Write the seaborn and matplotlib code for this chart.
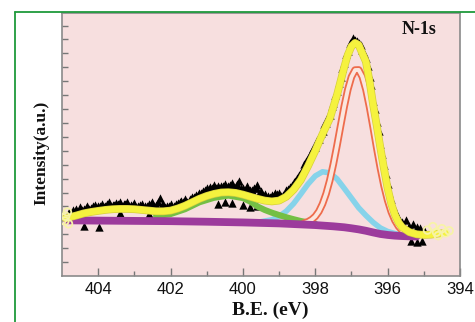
import numpy as np
import matplotlib
matplotlib.use("Agg")
import matplotlib.pyplot as plt
from matplotlib.lines import Line2D
import seaborn as sns

# ---------------- data ----------------
# Shirley-type background (purple)
bg_x = [404.85, 404.0, 403.0, 402.0, 401.0, 400.0, 399.0, 398.5, 398.0, 397.5, 397.2,
        397.0, 396.8, 396.6, 396.4, 396.2, 396.0, 395.8, 395.6, 395.4, 395.2]
bg_y = [4.00, 3.98, 3.96, 3.94, 3.90, 3.85, 3.78, 3.72, 3.66, 3.57, 3.50,
        3.43, 3.35, 3.25, 3.13, 3.02, 2.95, 2.90, 2.87, 2.85, 2.84]

# total fit envelope (yellow)
fit_x = [404.9, 404.6, 404.4, 404.2, 404.0, 403.8, 403.6, 403.4, 403.2, 403.0, 402.8, 402.6,
         402.4, 402.2, 402.0, 401.8, 401.6, 401.4, 401.2, 401.0, 400.8, 400.6, 400.4, 400.2,
         400.0, 399.8, 399.6, 399.4, 399.2, 399.0, 398.8, 398.6, 398.4, 398.2, 398.0, 397.8,
         397.6, 397.4, 397.2, 397.1, 397.0, 396.9, 396.8, 396.7, 396.6, 396.5, 396.4, 396.3,
         396.2, 396.1, 396.0, 395.9, 395.8, 395.7, 395.6, 395.4, 395.2, 395.0, 394.8, 394.6,
         394.4]
fit_y = [4.15, 4.35, 4.50, 4.60, 4.68, 4.75, 4.80, 4.82, 4.82, 4.80, 4.75, 4.70,
         4.65, 4.65, 4.70, 4.85, 5.05, 5.30, 5.55, 5.75, 5.90, 6.00, 6.02, 5.97,
         5.85, 5.70, 5.55, 5.42, 5.36, 5.42, 5.70, 6.20, 6.90, 7.90, 9.00, 10.20,
         11.30, 13.00, 15.00, 15.90, 16.50, 16.75, 16.60, 16.00, 15.40, 14.00, 12.30, 10.80,
         9.20, 7.70, 6.30, 5.20, 4.40, 3.85, 3.50, 3.15, 3.00, 2.95, 2.97, 3.05,
         3.10]

# component ~400.3 eV (green)
g_x = [402.4, 402.0, 401.6, 401.2, 400.8, 400.4, 400.0, 399.8, 399.6, 399.4, 399.2,
       399.0, 398.8, 398.6, 398.4, 398.2, 398.0]
g_y = [4.30, 4.45, 4.80, 5.30, 5.62, 5.78, 5.60, 5.35, 5.00, 4.75, 4.55,
       4.38, 4.22, 4.08, 3.95, 3.85, 3.76]

# component ~397.8 eV (cyan)
c_x = [400.4, 400.0, 399.6, 399.2, 399.0, 398.8, 398.6, 398.4, 398.2, 398.0, 397.8,
       397.6, 397.4, 397.2, 397.0, 396.8, 396.6, 396.4, 396.2, 396.0, 395.8, 395.6]
c_y = [3.87, 3.86, 3.86, 4.04, 4.28, 4.66, 5.20, 5.89, 6.61, 7.19, 7.49,
       7.41, 6.98, 6.30, 5.60, 4.90, 4.35, 3.85, 3.45, 3.20, 3.05, 2.95]

# component ~396.8 eV (red, hollow markers)
r_x = [398.3, 398.2, 398.1, 398.0, 397.9, 397.8, 397.7, 397.6, 397.5, 397.4, 397.3,
       397.2, 397.1, 397.0, 396.9, 396.8, 396.7, 396.6, 396.5, 396.4, 396.3, 396.2,
       396.1, 396.0, 395.9, 395.8, 395.7, 395.6, 395.5]
r_y = [3.81, 3.90, 4.05, 4.28, 4.64, 5.18, 5.91, 6.86, 8.04, 9.37, 10.79,
       12.18, 13.40, 14.31, 14.80, 14.81, 14.32, 13.40, 12.14, 10.69, 9.18, 7.75,
       6.49, 5.44, 4.61, 4.00, 3.57, 3.28, 3.09]

# measured points (black triangles)
d1_x = np.round(np.arange(404.8, 398.04, -0.1), 2)
d1_y = [4.60, 4.75, 4.80, 4.95, 4.85, 5.05, 4.90, 5.10, 5.00, 5.20,
        5.05, 5.30, 5.10, 5.25, 5.35, 5.15, 5.30, 5.10, 5.25, 5.05,
        5.20, 5.00, 5.15, 5.30, 5.10, 5.60, 5.20, 5.00, 5.15, 5.05,
        5.25, 5.40, 5.50, 5.35, 5.65, 5.80, 5.95, 6.10, 6.30, 6.40,
        6.55, 6.45, 6.50, 6.60, 6.45, 6.70, 6.50, 6.80, 6.35, 6.45,
        6.20, 6.35, 6.55, 6.10, 5.90, 5.75, 5.80, 5.95, 6.00, 5.85,
        6.15, 6.40, 6.75, 7.05, 7.50, 8.05, 8.50, 9.00]
d4_x = np.round(np.arange(404.75, 398.0, -0.1), 2)
d4_y = [4.55, 4.70, 4.60, 4.75, 4.90, 4.80, 5.00, 4.85, 5.05, 4.95,
        5.15, 5.00, 5.10, 5.20, 5.05, 5.20, 5.00, 5.10, 4.95, 5.10,
        4.95, 5.05, 5.20, 5.00, 5.35, 5.10, 4.95, 5.05, 4.95, 5.15,
        5.30, 5.35, 5.30, 5.55, 5.65, 5.85, 5.95, 6.15, 6.25, 6.30,
        6.35, 6.30, 6.45, 6.35, 6.55, 6.40, 6.60, 6.30, 6.20, 6.10,
        6.20, 6.30, 5.95, 5.80, 5.65, 5.70, 5.85, 5.90, 5.75, 6.00,
        6.25, 6.55, 6.85, 7.25, 7.70, 8.30, 8.75, 9.20]
d2_x = np.round(np.arange(398.0, 395.69, -0.05), 2)
d2_y = [9.30, 9.75, 9.85, 10.30, 10.45, 10.90, 11.00, 11.50, 11.60, 12.20,
        12.45, 13.00, 13.30, 13.85, 14.30, 14.95, 15.30, 15.95, 16.20, 16.75,
        16.80, 17.10, 16.95, 16.90, 16.75, 16.60, 16.25, 16.00, 15.65, 15.10,
        14.30, 13.70, 12.60, 12.00, 11.10, 10.40, 9.50, 8.80, 8.00, 7.30,
        6.60, 6.00, 5.50, 5.05, 4.70, 4.35, 4.15]
d3_x = [395.65, 395.6, 395.5, 395.4, 395.3, 395.2, 395.1, 395.0,
        404.4, 403.97, 395.35, 395.2, 395.05,
        400.7, 400.5, 400.3, 400.0, 399.8, 399.6, 402.6, 403.4]
d3_y = [3.95, 3.90, 4.00, 3.60, 3.75, 3.50, 3.45, 3.30,
        3.60, 3.55, 2.50, 2.45, 2.50,
        5.20, 5.30, 5.25, 5.10, 4.95, 5.00, 4.45, 4.50]

# bright open points at both ends of the scan
e_x = [404.9, 404.85, 404.92, 404.82, 394.9, 394.75, 394.6, 394.5, 394.4, 394.3, 394.65]
e_y = [4.30, 4.60, 3.95, 3.75, 3.30, 3.55, 2.90, 3.40, 3.10, 3.25, 3.15]

x_ticks = [404, 402, 400, 398, 396, 394]
x_ticklabels = ["404", "402", "400", "398", "396", "394"]

# ---------------- figure ----------------
sns.set_style("ticks")
plt.rcParams["font.family"] = ["Liberation Sans", "DejaVu Sans"]

fig = plt.figure(figsize=(4.75, 3.22), dpi=100)
fig.patch.set_facecolor("white")
ax = fig.add_axes([62 / 475, 46 / 322, 398 / 475, 263 / 322])
ax.set_facecolor("#f7dfdf")

# green page border (left and top)
fig.add_artist(Line2D([14.5 / 475, 14.5 / 475], [0, 1 - 11.5 / 322],
                      transform=fig.transFigure, color="#1f9a3c", lw=1.3))
fig.add_artist(Line2D([14.5 / 475, 1], [1 - 11.5 / 322, 1 - 11.5 / 322],
                      transform=fig.transFigure, color="#1f9a3c", lw=1.3))

tri_kw = dict(marker="^", color="black", s=36, linewidth=0, ax=ax, zorder=2)
sns.scatterplot(x=d1_x, y=d1_y, **tri_kw)
sns.scatterplot(x=d4_x, y=d4_y, **tri_kw)
sns.scatterplot(x=d2_x, y=d2_y, **tri_kw)
sns.scatterplot(x=d3_x, y=d3_y, **tri_kw)

sns.lineplot(x=c_x, y=c_y, ax=ax, color="#86d3ea", lw=4.0, zorder=3)
sns.lineplot(x=g_x, y=g_y, ax=ax, color="#74bf45", lw=4.4, zorder=3)
sns.lineplot(x=r_x, y=r_y, ax=ax, color="#ee6c4c", lw=5.4, zorder=4)
sns.lineplot(x=r_x, y=r_y, ax=ax, color="#fbe6de", lw=2.8, zorder=4)
sns.lineplot(x=bg_x, y=bg_y, ax=ax, color="#9c3b9c", lw=5.6, zorder=5)
sns.lineplot(x=fit_x, y=fit_y, ax=ax, color="#d6cf3c", lw=5.6, zorder=6)
sns.lineplot(x=fit_x, y=fit_y, ax=ax, color="#f5f23e", lw=4.6, zorder=6)
sns.scatterplot(x=e_x, y=e_y, ax=ax, marker="o", s=30, facecolor="none",
                edgecolor="#f7f3a8", linewidth=1.3, zorder=7)

ax.set_xlim(405, 394)
ax.set_ylim(0, 18.9)
ax.set_xticks(x_ticks)
ax.set_xticklabels(x_ticklabels)
ax.set_xticks([403, 401, 399, 397, 395], minor=True)
ax.set_yticks(np.arange(1, 19))
ax.set_yticklabels([])
ax.tick_params(axis="x", which="major", direction="in", length=6, width=1,
               color="#777777", labelsize=12, pad=4, labelcolor="#111111")
ax.tick_params(axis="x", which="minor", direction="in", length=3.5, width=1,
               color="#777777")
ax.tick_params(axis="y", which="major", direction="in", length=4.5, width=1,
               color="#777777")
for s in ax.spines.values():
    s.set_color("#8a8a8a")
    s.set_linewidth(1.2)

ax.set_xlabel("B.E. (eV)", family=["Liberation Serif", "DejaVu Serif"],
              fontweight="bold", fontsize=14, color="#111111")
ax.set_ylabel("Intensity(a.u.)", family=["Liberation Serif", "DejaVu Serif"],
              fontweight="bold", fontsize=12.5, color="#111111")
ax.xaxis.set_label_coords(0.523, -0.097)
ax.yaxis.set_label_coords(-0.032, 0.47)

ax.text(395.13, 17.7, "N-1s", family=["Liberation Serif", "DejaVu Serif"],
        fontweight="bold", fontsize=13, ha="center", va="center", color="#111111",
        zorder=8)

fig.savefig("out.png", dpi=100)
